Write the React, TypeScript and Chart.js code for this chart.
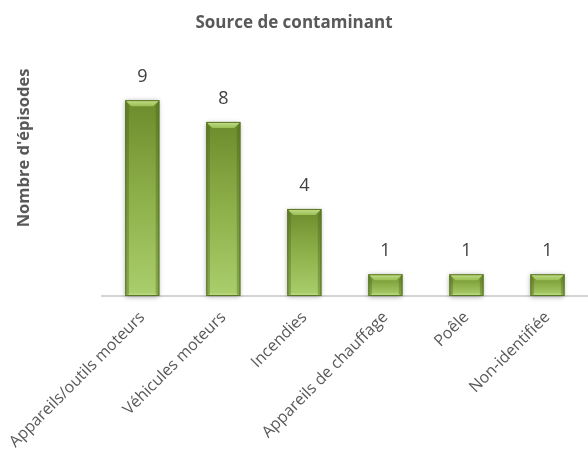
import React, { useEffect, useRef } from "react";
import { Chart, registerables } from "chart.js";

Chart.register(...registerables);

const categories = [
  "Appareils/outils moteurs",
  "Véhicules moteurs",
  "Incendies",
  "Appareils de chauffage",
  "Poêle",
  "Non-identifiée",
];
const episodes = [9, 8, 4, 1, 1, 1];
const chartTitle = "Source de contaminant";
const yTitle = "Nombre d'épisodes";

const FONT = "'Open Sans', 'Noto Sans', sans-serif";

const barShadow = {
  id: "barShadow",
  beforeDatasetsDraw(chart: any) {
    const ctx = chart.ctx;
    const meta = chart.getDatasetMeta(0);
    ctx.save();
    meta.data.forEach((el: any) => {
      const w = el.width;
      const left = el.x - w / 2;
      ctx.shadowColor = "rgba(0,0,0,0.35)";
      ctx.shadowBlur = 5;
      ctx.shadowOffsetX = 0;
      ctx.shadowOffsetY = 1;
      ctx.fillStyle = "#7a9a3a";
      ctx.fillRect(left, el.y, w, el.base - el.y);
    });
    ctx.restore();
  },
};

const bevel = {
  id: "bevel",
  afterDatasetsDraw(chart: any) {
    const ctx = chart.ctx;
    const meta = chart.getDatasetMeta(0);
    const ds = chart.data.datasets[0];
    ctx.save();
    meta.data.forEach((el: any, i: number) => {
      const w = el.width;
      const l = el.x - w / 2;
      const r = el.x + w / 2;
      const t = el.y;
      const b = el.base;
      const bv = Math.min(6, (b - t) / 2.5);
      const gt = ctx.createLinearGradient(0, t, 0, t + bv);
      gt.addColorStop(0, "#c3df8a");
      gt.addColorStop(1, "#9cbf55");
      ctx.fillStyle = gt;
      ctx.beginPath();
      ctx.moveTo(l, t);
      ctx.lineTo(r, t);
      ctx.lineTo(r - bv, t + bv);
      ctx.lineTo(l + bv, t + bv);
      ctx.closePath();
      ctx.fill();
      ctx.fillStyle = "rgba(70,95,25,0.35)";
      ctx.beginPath();
      ctx.moveTo(l, t);
      ctx.lineTo(l + bv * 0.6, t + bv);
      ctx.lineTo(l + bv * 0.6, b - 2);
      ctx.lineTo(l, b);
      ctx.closePath();
      ctx.fill();
      ctx.beginPath();
      ctx.moveTo(r, t);
      ctx.lineTo(r - bv * 0.6, t + bv);
      ctx.lineTo(r - bv * 0.6, b - 2);
      ctx.lineTo(r, b);
      ctx.closePath();
      ctx.fill();
      ctx.fillStyle = "rgba(200,230,150,0.35)";
      ctx.fillRect(l + bv * 0.6, b - 3, w - bv * 1.2, 3);
      ctx.strokeStyle = "#5b7726";
      ctx.lineWidth = 1;
      ctx.strokeRect(l + 0.5, t + 0.5, w - 1, b - t - 1);
      ctx.fillStyle = "#404040";
      ctx.font = `18px ${FONT}`;
      ctx.textAlign = "center";
      ctx.textBaseline = "alphabetic";
      ctx.fillText(String(ds.data[i]), el.x, t - 18);
    });
    ctx.translate(24, 148);
    ctx.rotate(-Math.PI / 2);
    ctx.fillStyle = "#595959";
    ctx.font = `bold 16.5px ${FONT}`;
    ctx.textAlign = "center";
    ctx.textBaseline = "middle";
    ctx.fillText(yTitle, 0, 0);
    ctx.restore();
  },
};

export default function App() {
  const ref = useRef<HTMLCanvasElement | null>(null);
  useEffect(() => {
    if (!ref.current) return;
    const chart = new Chart(ref.current, {
      type: "bar",
      data: {
        labels: categories,
        datasets: [
          {
            data: episodes,
            barPercentage: 0.42,
            categoryPercentage: 1,
            backgroundColor: (c: any) => {
              const ch = c.chart;
              if (!ch.chartArea || c.raw === undefined) return "#8aaa45";
              const y = ch.scales.y.getPixelForValue(c.raw);
              const base = ch.scales.y.getPixelForValue(0);
              const g = ch.ctx.createLinearGradient(0, y, 0, base);
              g.addColorStop(0, "#6c8b2c");
              g.addColorStop(0.5, "#8eb04a");
              g.addColorStop(1, "#abce6d");
              return g;
            },
          },
        ],
      },
      options: {
        animation: false,
        responsive: true,
        maintainAspectRatio: false,
        layout: { padding: 0 },
        plugins: {
          legend: { display: false },
          tooltip: { enabled: false },
          title: {
            display: true,
            text: chartTitle,
            color: "#595959",
            font: { family: FONT, size: 17, weight: "bold" },
            padding: { top: 13, bottom: 45 },
          },
        },
        scales: {
          y: {
            display: true,
            min: 0,
            max: 10,
            grid: { display: false },
            border: { display: false },
            ticks: { display: false },
            afterFit: (s: any) => {
              s.width = 100;
            },
          },
          x: {
            grid: { display: false },
            border: { color: "#d4d4d4", width: 2 },
            ticks: {
              color: "#595959",
              font: { family: FONT, size: 16 },
              minRotation: 45,
              maxRotation: 45,
              autoSkip: false,
              padding: 4,
            },
            afterFit: (s: any) => {
              s.height = 155;
            },
          },
        },
      },
      plugins: [barShadow, bevel],
    });
    return () => chart.destroy();
  }, []);
  return (
    <div style={{ position: "absolute", left: 0, top: 0, width: 588, height: 451 }}>
      <canvas ref={ref} />
    </div>
  );
}
